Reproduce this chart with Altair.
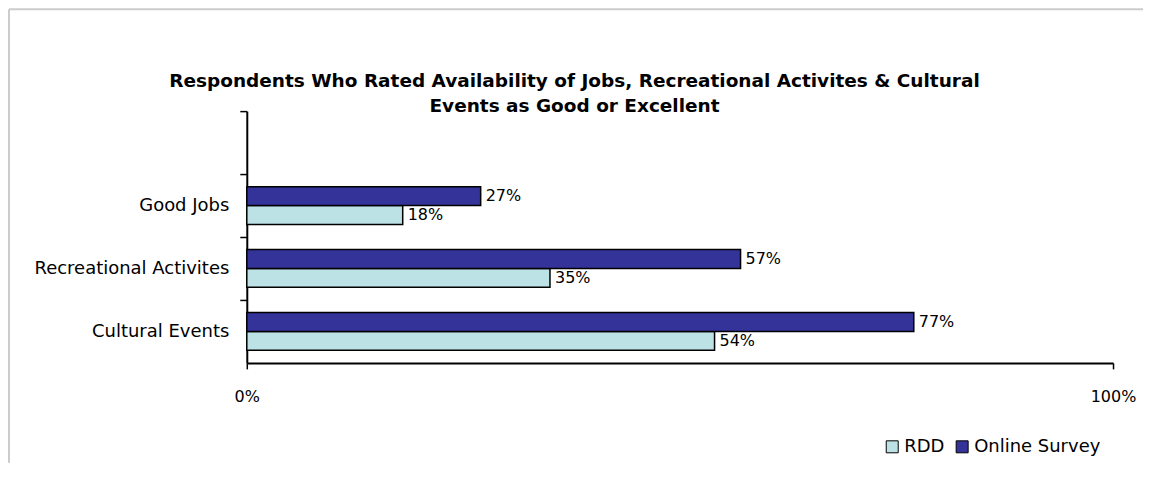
import altair as alt
import pandas as pd

categories = ["Good Jobs", "Recreational Activites", "Cultural Events"]
rdd = [0.18, 0.35, 0.54]
online = [0.27, 0.57, 0.77]
series = ["RDD", "Online Survey"]
title_lines = [
    "Respondents Who Rated Availability of Jobs, Recreational Activites & Cultural",
    "Events as Good or Excellent",
]
y_domain = [" "] + categories

rows = []
for c, r, o in zip(categories, rdd, online):
    rows.append({"cat": c, "series": "RDD", "value": r})
    rows.append({"cat": c, "series": "Online Survey", "value": o})
df = pd.DataFrame(rows)

FONT = "DejaVu Sans"
W, H = 867, 252
RIGHT = 30

y_enc = alt.Y(
    "cat:N",
    scale=alt.Scale(domain=y_domain, paddingInner=0.4, paddingOuter=0.2),
    axis=alt.Axis(
        title=None,
        tickOffset=-31.5,
        labelOffset=31.5,
        tickSize=7,
        tickColor="black",
        tickWidth=1.5,
        domainColor="black",
        domainWidth=2,
        labelFontSize=18,
        labelFont=FONT,
        labelColor="black",
        labelPadding=11,
        labelLimit=400,
    ),
)
yoff = alt.YOffset(
    "series:N",
    scale=alt.Scale(domain=["Online Survey", "RDD"], paddingInner=0, paddingOuter=0),
)
x_enc = alt.X(
    "value:Q",
    scale=alt.Scale(domain=[0, 1]),
    axis=alt.Axis(
        title=None,
        values=[0, 1],
        format=".0%",
        grid=False,
        tickSize=6,
        tickColor="black",
        tickWidth=1.5,
        domainColor="black",
        domainWidth=2,
        labelFontSize=16,
        labelFont=FONT,
        labelColor="black",
        labelPadding=20,
        labelFlush=False,
    ),
)

base = alt.Chart(df)

bars = base.mark_bar(stroke="black", strokeWidth=1.5).encode(
    x=x_enc,
    y=y_enc,
    yOffset=yoff,
    color=alt.Color(
        "series:N",
        scale=alt.Scale(domain=series, range=["#BCE2E5", "#333399"]),
        legend=alt.Legend(
            title=None,
            orient="none",
            legendX=637,
            legendY=327,
            direction="horizontal",
            symbolType="square",
            symbolSize=144,
            symbolStrokeColor="black",
            symbolStrokeWidth=1,
            symbolOpacity=1,
            labelFontSize=18,
            labelFont=FONT,
            labelColor="black",
            labelOffset=3,
            columnPadding=8,
            padding=0,
        ),
    ),
)

labels = base.mark_text(
    align="left", baseline="middle", dx=5, fontSize=16, font=FONT, color="black"
).encode(
    x="value:Q",
    y=alt.Y("cat:N", scale=alt.Scale(domain=y_domain)),
    yOffset=alt.YOffset("series:N", scale=alt.Scale(domain=["Online Survey", "RDD"])),
    text=alt.Text("value:Q", format=".0%"),
)

one = alt.Data(values=[{"a": 1}])
frame_left = alt.Chart(one).mark_rule(stroke="#cccccc", strokeWidth=2).encode(
    x=alt.value(-238), y=alt.value(-102), y2=alt.value(H + 100)
)
frame_top = alt.Chart(one).mark_rule(stroke="#cccccc", strokeWidth=2).encode(
    x=alt.value(-238), x2=alt.value(W + RIGHT), y=alt.value(-102)
)

title = alt.Chart(one).mark_text(
    text=title_lines,
    fontSize=18.5,
    fontWeight="bold",
    font=FONT,
    color="black",
    lineHeight=25,
    align="center",
    baseline="middle",
).encode(x=alt.value(328), y=alt.value(-30))

chart = (
    alt.layer(frame_left, frame_top, title, bars, labels)
    .properties(
        width=W,
        height=H,
        background="white",
        autosize=alt.AutoSizeParams(type="none"),
        padding={"left": 239, "top": 103, "right": RIGHT, "bottom": 100},
    )
    .configure_view(strokeWidth=0, stroke="transparent")
)

chart.save("out.html", embed_options={"renderer": "svg", "actions": False})
